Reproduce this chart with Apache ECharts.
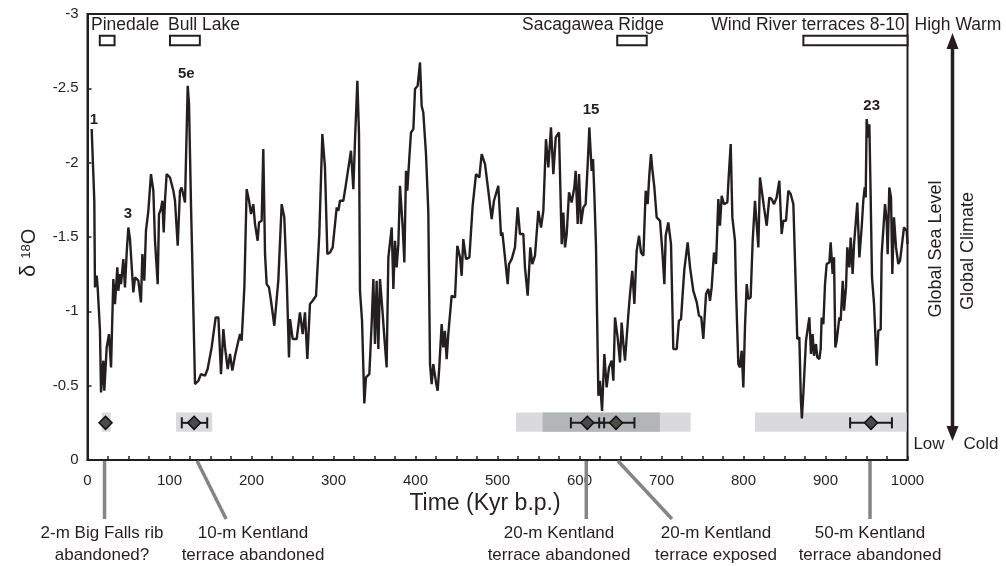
<!DOCTYPE html>
<html>
<head>
<meta charset="utf-8">
<script src="https://cdn.jsdelivr.net/npm/echarts@6/dist/echarts.min.js"></script>
<style>
  html, body { margin: 0; padding: 0; background: #fff; }
  #chart { width: 1006px; height: 566px; }
</style>
</head>
<body>
<div id="chart"></div>
<script>
// 时间 (kyr b.p.) 与 δ18O 曲线
var ages = [
  5.1, 8.3, 9.1, 11.2, 12.4, 15.2, 16.5, 19.3, 20.5, 23.4, 26.2, 28.7, 31.5, 33.5, 36.4, 37.6, 39.6, 40.9, 43.7, 45.7,
  47.8, 49.8, 51.8, 53.9, 55.9, 58, 62, 65.2, 66.9, 69.3, 71.3, 74.2, 77.4, 80.3, 82.3, 85.6, 87.2, 89.6, 91.3, 92.9,
  94.5, 96.5, 100.6, 104.7, 106.7, 110, 112.8, 114.8, 116.9, 118.9, 122.2, 123.8, 126.2, 127.8, 131.1, 135.2, 138.4, 143.3, 146.5, 151.4,
  156.3, 159.6, 162.8, 165.7, 167.7, 171, 173.8, 176.6, 179.9, 183.1, 186, 188, 191.3, 194.1, 197, 199.4, 202.2, 204.3, 207.5, 209.2,
  212.4, 214.4, 216.5, 218.5, 221.3, 223.8, 227.8, 232.7, 236.8, 240, 242.9, 245.7, 247, 250.2, 255.1, 259.1, 262.4, 265.2, 268.1, 271.3,
  274.6, 278.7, 282.7, 286.4, 289.6, 292.5, 295.7, 299, 303.9, 305.9, 307.9, 312, 315.2, 321.3, 324.2, 326.2, 329.1, 331.1, 332.3, 334.8,
  337.6, 339.6, 343.7, 346.5, 348.6, 350.6, 352.6, 354.7, 356.7, 360, 362, 364.8, 366.9, 368.9, 371, 373, 375, 377, 379.1, 381.1,
  384.4, 386.4, 388.4, 390, 392.5, 394.5, 397.4, 399.4, 402.6, 405.5, 407.5, 409.5, 412.8, 415.6, 417.7, 419.7, 421.7, 425, 427, 429,
  431.9, 433.9, 435.9, 438, 440, 444.1, 448.2, 451, 454.3, 456.3, 458.3, 461.6, 465.7, 469.7, 473.8, 477.8, 480.7, 484.8, 488.8, 492.9,
  495.7, 501, 504.3, 505.9, 508.3, 512.4, 514, 517.3, 521.3, 524.6, 527.4, 531.5, 533.5, 536.8, 540, 542.5, 545.7, 549.8, 553.1, 555.9,
  559.1, 562, 565.2, 568.1, 571, 575, 578.3, 580.3, 582.3, 584.4, 587.2, 590.4, 593.7, 595.3, 597.8, 599.4, 601.8, 604.7, 607.5, 610,
  612, 614.8, 616.5, 618.1, 620.1, 621.4, 623, 625, 627.5, 630.3, 633.1, 636, 639.2, 641.3, 643.3, 646.5, 649.4, 651.4, 653.5, 655.5,
  659.6, 661.6, 664.4, 666.9, 669.7, 672.6, 675, 677.9, 680.7, 683.1, 685.2, 687.2, 688.8, 691.3, 694.1, 698.2, 701, 703.5, 705.1, 708.3,
  711.6, 714.4, 718.5, 721.3, 723.8, 725.8, 727.9, 731.9, 734.8, 738.8, 743, 745.7, 748.5, 751, 754.3, 757.1, 759.1, 761.2, 764, 766.5,
  769.3, 771.3, 773.4, 776.2, 780.3, 781.9, 784.4, 786.4, 789.6, 790.9, 793.7, 795.7, 797.8, 799.8, 801.8, 803.9, 805.9, 808.7, 811.2, 814,
  816.1, 818.1, 820.1, 823.4, 825, 828.3, 831.5, 834.3, 837.2, 840.4, 843.7, 846.5, 848.6, 851.8, 854.7, 857.5, 860.8, 863.2, 865.6, 868.1,
  870, 871.2, 873, 876.2, 880.3, 882.3, 884.3, 886, 888.4, 890, 892.5, 894.1, 895.3, 897.4, 899.4, 901.4, 904.7, 906.3, 908.7, 910.4,
  912, 913.6, 916.9, 918.5, 921, 922.6, 925, 926.6, 929.1, 930.7, 933.1, 934.8, 937.2, 938.8, 941.3, 944.1, 946.1, 947.8, 949, 950.2,
  952.2, 953.5, 955.1, 956.7, 959.2, 962.4, 964.4, 967.3, 968.5, 970.5, 972.6, 974.6, 975.8, 977.8, 979.9, 981.5, 983.5, 986, 988.8, 990.9,
  992.9, 995.7, 999, 1000
];
var d18O = [
  -2.226, -1.744, -1.161, -1.24, -1.16, -0.87, -0.455, -0.668, -0.466, -0.757, -0.847, -0.623, -1.217, -1.049, -1.296, -1.138, -1.25, -1.183, -1.351, -1.161,
  -1.396, -1.564, -1.486, -1.497, -1.127, -1.228, -1.206, -1.06, -1.385, -1.206, -1.542, -1.676, -1.923, -1.811, -1.475, -1.183, -1.654, -1.688, -1.744, -1.531,
  -1.744, -1.923, -1.9, -1.811, -1.744, -1.441, -1.811, -1.833, -1.845, -1.732, -2.517, -2.394, -1.721, -1.34, -0.511, -0.533, -0.578, -0.567, -0.612, -0.757,
  -0.959, -0.959, -0.578, -0.881, -0.757, -0.612, -0.713, -0.601, -0.701, -0.78, -0.847, -0.802, -1.161, -1.822, -1.744, -1.654, -1.721, -1.587, -1.475, -1.598,
  -1.609, -2.091, -1.385, -1.183, -1.161, -1.071, -0.903, -1.206, -1.721, -1.632, -1.228, -0.69, -0.948, -0.814, -0.814, -0.993, -0.847, -0.993, -0.679, -1.049,
  -1.071, -1.105, -1.52, -2.192, -1.968, -1.385, -1.396, -1.43, -1.699, -1.676, -1.744, -1.744, -1.856, -2.08, -1.822, -2.147, -2.551, -2.192, -1.138, -0.937,
  -0.38, -0.556, -0.578, -0.914, -1.217, -0.78, -1.206, -0.746, -1.217, -0.982, -0.825, -0.623, -1.363, -1.351, -1.564, -1.15, -1.475, -1.296, -1.452, -1.845,
  -1.564, -1.329, -1.945, -1.811, -2.035, -2.203, -2.226, -2.495, -2.517, -2.674, -2.383, -2.338, -2.058, -1.676, -0.645, -0.511, -0.645, -0.522, -0.466, -0.623,
  -0.914, -0.757, -0.869, -0.679, -0.847, -1.105, -1.094, -1.441, -1.363, -1.239, -1.486, -1.351, -1.363, -1.71, -1.923, -1.9, -2.058, -1.99, -1.811, -1.62,
  -1.744, -1.845, -1.508, -1.531, -1.407, -1.183, -1.318, -1.351, -1.43, -1.699, -1.52, -1.52, -1.296, -1.105, -1.43, -1.318, -1.374, -1.676, -1.564, -1.676,
  -2.158, -1.968, -2.237, -1.923, -2.17, -2.203, -1.452, -1.665, -1.43, -1.52, -1.8, -1.732, -1.833, -1.945, -1.587, -1.923, -1.587, -1.699, -1.721, -1.99,
  -2.237, -1.945, -2.024, -1.789, -1.441, -0.982, -0.432, -0.533, -0.33, -0.713, -0.488, -0.623, -0.668, -0.533, -0.959, -0.825, -0.656, -0.925, -0.78, -0.668,
  -0.982, -1.116, -1.273, -1.049, -1.407, -1.508, -1.396, -1.374, -1.811, -1.721, -1.923, -2.058, -1.957, -1.833, -1.632, -1.609, -1.407, -1.183, -1.508, -1.598,
  -1.452, -0.746, -0.746, -0.937, -0.948, -1.116, -1.284, -1.464, -1.296, -1.138, -1.06, -0.971, -0.96, -0.814, -1.116, -1.15, -1.071, -1.161, -1.396, -1.318,
  -1.755, -1.576, -1.777, -1.721, -1.732, -1.9, -2.125, -1.632, -1.475, -1.138, -0.645, -0.623, -0.735, -0.488, -0.892, -1.183, -1.082, -1.094, -1.475, -1.744,
  -1.755, -1.43, -1.9, -1.766, -1.699, -1.576, -1.766, -1.755, -1.721, -1.766, -1.878, -1.52, -1.609, -1.609, -1.811, -1.789, -1.721, -1.71, -0.814, -0.825,
  -0.4, -0.28, -0.45, -0.802, -0.959, -0.713, -0.847, -0.701, -0.78, -0.69, -0.679, -0.746, -0.959, -0.914, -1.183, -1.318, -1.329, -1.464, -1.251, -1.363,
  -0.757, -0.802, -0.959, -0.937, -1.206, -1.004, -1.161, -1.43, -1.296, -1.497, -1.251, -1.452, -1.452, -1.732, -1.363, -1.564, -1.744, -1.833, -1.766, -2.293,
  -2.169, -2.259, -1.766, -1.228, -1.049, -0.634, -0.869, -0.88, -1.385, -1.385, -1.721, -1.609, -1.385, -1.833, -1.766, -1.251, -1.632, -1.43, -1.318, -1.34,
  -1.351, -1.564, -1.542, -1.452
];

// 阶地年龄 (菱形) 与误差范围
var terraceAges = [22, 130, 609.5, 644.5, 955.5];
var terraceErrLo = [null, 115, 589.5, 624, 930];
var terraceErrHi = [null, 146, 630, 667, 981];
var terraceNames = [
  '2-m Big Falls rib\nabandoned?',
  '10-m Kentland\nterrace abandoned',
  '20-m Kentland\nterrace abandoned',
  '20-m Kentland\nterrace exposed',
  '50-m Kentland\nterrace abandoned'
];

// 灰色年龄区间 (0 = 浅灰, 1 = 深灰)
var bandStart = [17.3, 108, 522.6, 555, 814];
var bandEnd = [28.3, 152, 735.6, 698, 999];
var bandShade = [0, 0, 0, 1, 0];

// 顶部冰期/阶地框
var glacialNames = ['Pinedale', 'Bull Lake', 'Sacagawea Ridge', 'Wind River terraces 8-10'];
var glacialStart = [15, 100.6, 646, 873];
var glacialEnd = [33, 137, 682, 1000];

// 同位素阶段编号
var stageNames = ['1', '3', '5e', '15', '23'];

// 坐标轴刻度
var xTicks = [0, 100, 200, 300, 400, 500, 600, 700, 800, 900, 1000];
var yTicks = [-3, -2.5, -2, -1.5, -1, -0.5, 0];

var FONT = '"Liberation Sans", Arial, sans-serif';
var INK = '#231f20';

var chart = echarts.init(document.getElementById('chart'));

var curve = ages.map(function (a, i) { return [a, d18O[i]]; });

/* 文字与箭头等装饰 */
function txt(text, x, y, size, opt) {
  opt = opt || {};
  return {
    type: 'text',
    x: x, y: y,
    rotation: opt.rotate || 0,
    z: 100,
    style: {
      text: text,
      fill: INK,
      fontSize: size,
      fontFamily: FONT,
      fontWeight: opt.bold ? 'bold' : 'normal',
      lineHeight: opt.lineHeight,
      align: opt.align || 'center',
      verticalAlign: 'middle',
      textAlign: opt.align || 'center',
      textVerticalAlign: 'middle'
    }
  };
}

var labelX = [102, 253, 559, 716, 870];
var graphics = [
  txt(glacialNames[0], 91, 25, 17.5, { align: 'left' }),
  txt(glacialNames[1], 168, 25, 17.5, { align: 'left' }),
  txt(glacialNames[2], 593, 25, 17.5),
  txt(glacialNames[3], 808, 25, 17.5),
  txt('High Warm', 958, 25, 17.5),
  txt('Low', 929, 444.5, 17),
  txt('Cold', 981, 444.5, 17),
  txt('Global Sea Level', 936, 249, 18, { rotate: Math.PI / 2 }),
  txt('Global Climate', 968.5, 251, 18, { rotate: Math.PI / 2 }),
  txt('Time (Kyr b.p.)', 485, 504, 23),
  // δ18O 轴标题
  txt('δ', 29, 271, 22, { rotate: Math.PI / 2 }),
  txt('18', 26, 251.5, 13, { rotate: Math.PI / 2 }),
  txt('O', 29.5, 236.5, 20, { rotate: Math.PI / 2 }),
  // 阶段编号
  txt(stageNames[0], 94, 120, 15, { bold: true }),
  txt(stageNames[1], 128, 213.5, 15, { bold: true }),
  txt(stageNames[2], 186.3, 74, 15, { bold: true }),
  txt(stageNames[3], 591, 110, 15, { bold: true }),
  txt(stageNames[4], 871.7, 106, 15, { bold: true }),
  // 双向箭头
  { type: 'line', z: 100, shape: { x1: 952.5, y1: 44, x2: 952.5, y2: 430 }, style: { stroke: INK, lineWidth: 3.5 } },
  { type: 'polygon', z: 100, shape: { points: [[952.5, 33], [946.5, 49], [958.5, 49]] }, style: { fill: INK } },
  { type: 'polygon', z: 100, shape: { points: [[952.5, 441], [946.5, 426], [958.5, 426]] }, style: { fill: INK } }
];
terraceNames.forEach(function (n, i) {
  graphics.push(txt(n, labelX[i], 544, 17, { lineHeight: 22 }));
});

var option = {
  animation: false,
  backgroundColor: '#fff',
  grid: {
    left: 87.5, right: 98.5, top: 14, bottom: 106,
    show: true, borderColor: INK, borderWidth: 2, backgroundColor: 'transparent'
  },
  xAxis: {
    type: 'value',
    min: xTicks[0], max: xTicks[xTicks.length - 1], interval: 100,
    axisLine: { show: true, lineStyle: { color: INK, width: 2 } },
    axisTick: { show: true, inside: true, length: 4, lineStyle: { color: INK, width: 1.5 } },
    minorTick: { show: true, splitNumber: 4, length: 4, lineStyle: { color: INK, width: 1.5 } },
    axisLabel: {
      color: INK, fontSize: 15, fontFamily: FONT, margin: 13,
      formatter: function (v) { return String(v); }
    },
    splitLine: { show: false }
  },
  yAxis: {
    type: 'value',
    inverse: true,
    min: yTicks[0], max: yTicks[yTicks.length - 1], interval: 0.5,
    axisLine: { show: true, lineStyle: { color: INK, width: 2 } },
    axisTick: { show: true, inside: true, length: 4, lineStyle: { color: INK, width: 1.5 } },
    axisLabel: {
      color: INK, fontSize: 15, fontFamily: FONT, margin: 9,
      formatter: function (v) { return String(v); }
    },
    splitLine: { show: false }
  },
  graphic: graphics,
  series: [
    /* 灰色年龄区间 */
    {
      type: 'custom',
      z: 1,
      data: bandStart.map(function (s, i) { return [s, bandEnd[i], bandShade[i]]; }),
      encode: { x: [0, 1] },
      renderItem: function (params, api) {
        var p0 = api.coord([api.value(0), -0.32]);
        var p1 = api.coord([api.value(1), -0.19]);
        return {
          type: 'rect',
          shape: { x: p0[0], y: Math.min(p0[1], p1[1]), width: p1[0] - p0[0], height: Math.abs(p1[1] - p0[1]) },
          style: { fill: api.value(2) ? '#b4b5b8' : '#dadadc' }
        };
      }
    },
    /* δ18O 曲线 */
    {
      type: 'line',
      z: 3,
      data: curve,
      showSymbol: false,
      lineStyle: { color: INK, width: 2.4 },
      itemStyle: { color: INK }
    },
    /* 误差棒 */
    {
      type: 'custom',
      z: 4,
      data: terraceAges.map(function (a, i) { return [terraceErrLo[i], terraceErrHi[i], -0.25]; })
        .filter(function (d) { return d[0] !== null; }),
      encode: { x: [0, 1], y: 2 },
      renderItem: function (params, api) {
        var a = api.coord([api.value(0), api.value(2)]);
        var b = api.coord([api.value(1), api.value(2)]);
        var st = { stroke: '#1a1a1a', lineWidth: 2 };
        return {
          type: 'group',
          children: [
            { type: 'line', shape: { x1: a[0], y1: a[1], x2: b[0], y2: b[1] }, style: st },
            { type: 'line', shape: { x1: a[0], y1: a[1] - 5.5, x2: a[0], y2: a[1] + 5.5 }, style: st },
            { type: 'line', shape: { x1: b[0], y1: b[1] - 5.5, x2: b[0], y2: b[1] + 5.5 }, style: st }
          ]
        };
      }
    },
    /* 菱形 */
    {
      type: 'scatter',
      z: 5,
      symbol: 'diamond',
      symbolSize: [13, 13],
      data: terraceAges.map(function (a) { return [a, -0.25]; }),
      itemStyle: { color: '#4a4a4a', borderColor: '#111', borderWidth: 1.5, opacity: 1 }
    },
    /* 顶部冰期框 */
    {
      type: 'custom',
      z: 5,
      data: glacialStart.map(function (s, i) { return [s, glacialEnd[i]]; }),
      encode: { x: [0, 1] },
      renderItem: function (params, api) {
        var p0 = api.coord([api.value(0), -2.853]);
        var p1 = api.coord([api.value(1), -2.79]);
        return {
          type: 'rect',
          shape: { x: p0[0], y: Math.min(p0[1], p1[1]), width: p1[0] - p0[0], height: Math.abs(p1[1] - p0[1]) },
          style: { fill: '#fff', stroke: INK, lineWidth: 2 }
        };
      }
    },
    /* 轴下方灰色引线 */
    {
      type: 'custom',
      z: 5,
      clip: false,
      data: terraceAges.map(function (a, i) { return [a, i]; }),
      encode: { x: 0 },
      renderItem: function (params, api) {
        var slant = [0, 29, 0, 54, 0][api.value(1)];
        var shift = [-1, 3, -1, 2, -1][api.value(1)];
        var p = api.coord([api.value(0), 0]);
        return {
          type: 'line',
          shape: { x1: p[0] + shift, y1: p[1] + 1, x2: p[0] + shift + slant, y2: p[1] + 59 },
          style: { stroke: '#858585', lineWidth: 3.5 }
        };
      }
    }
  ]
};

chart.setOption(option);
</script>
</body>
</html>
